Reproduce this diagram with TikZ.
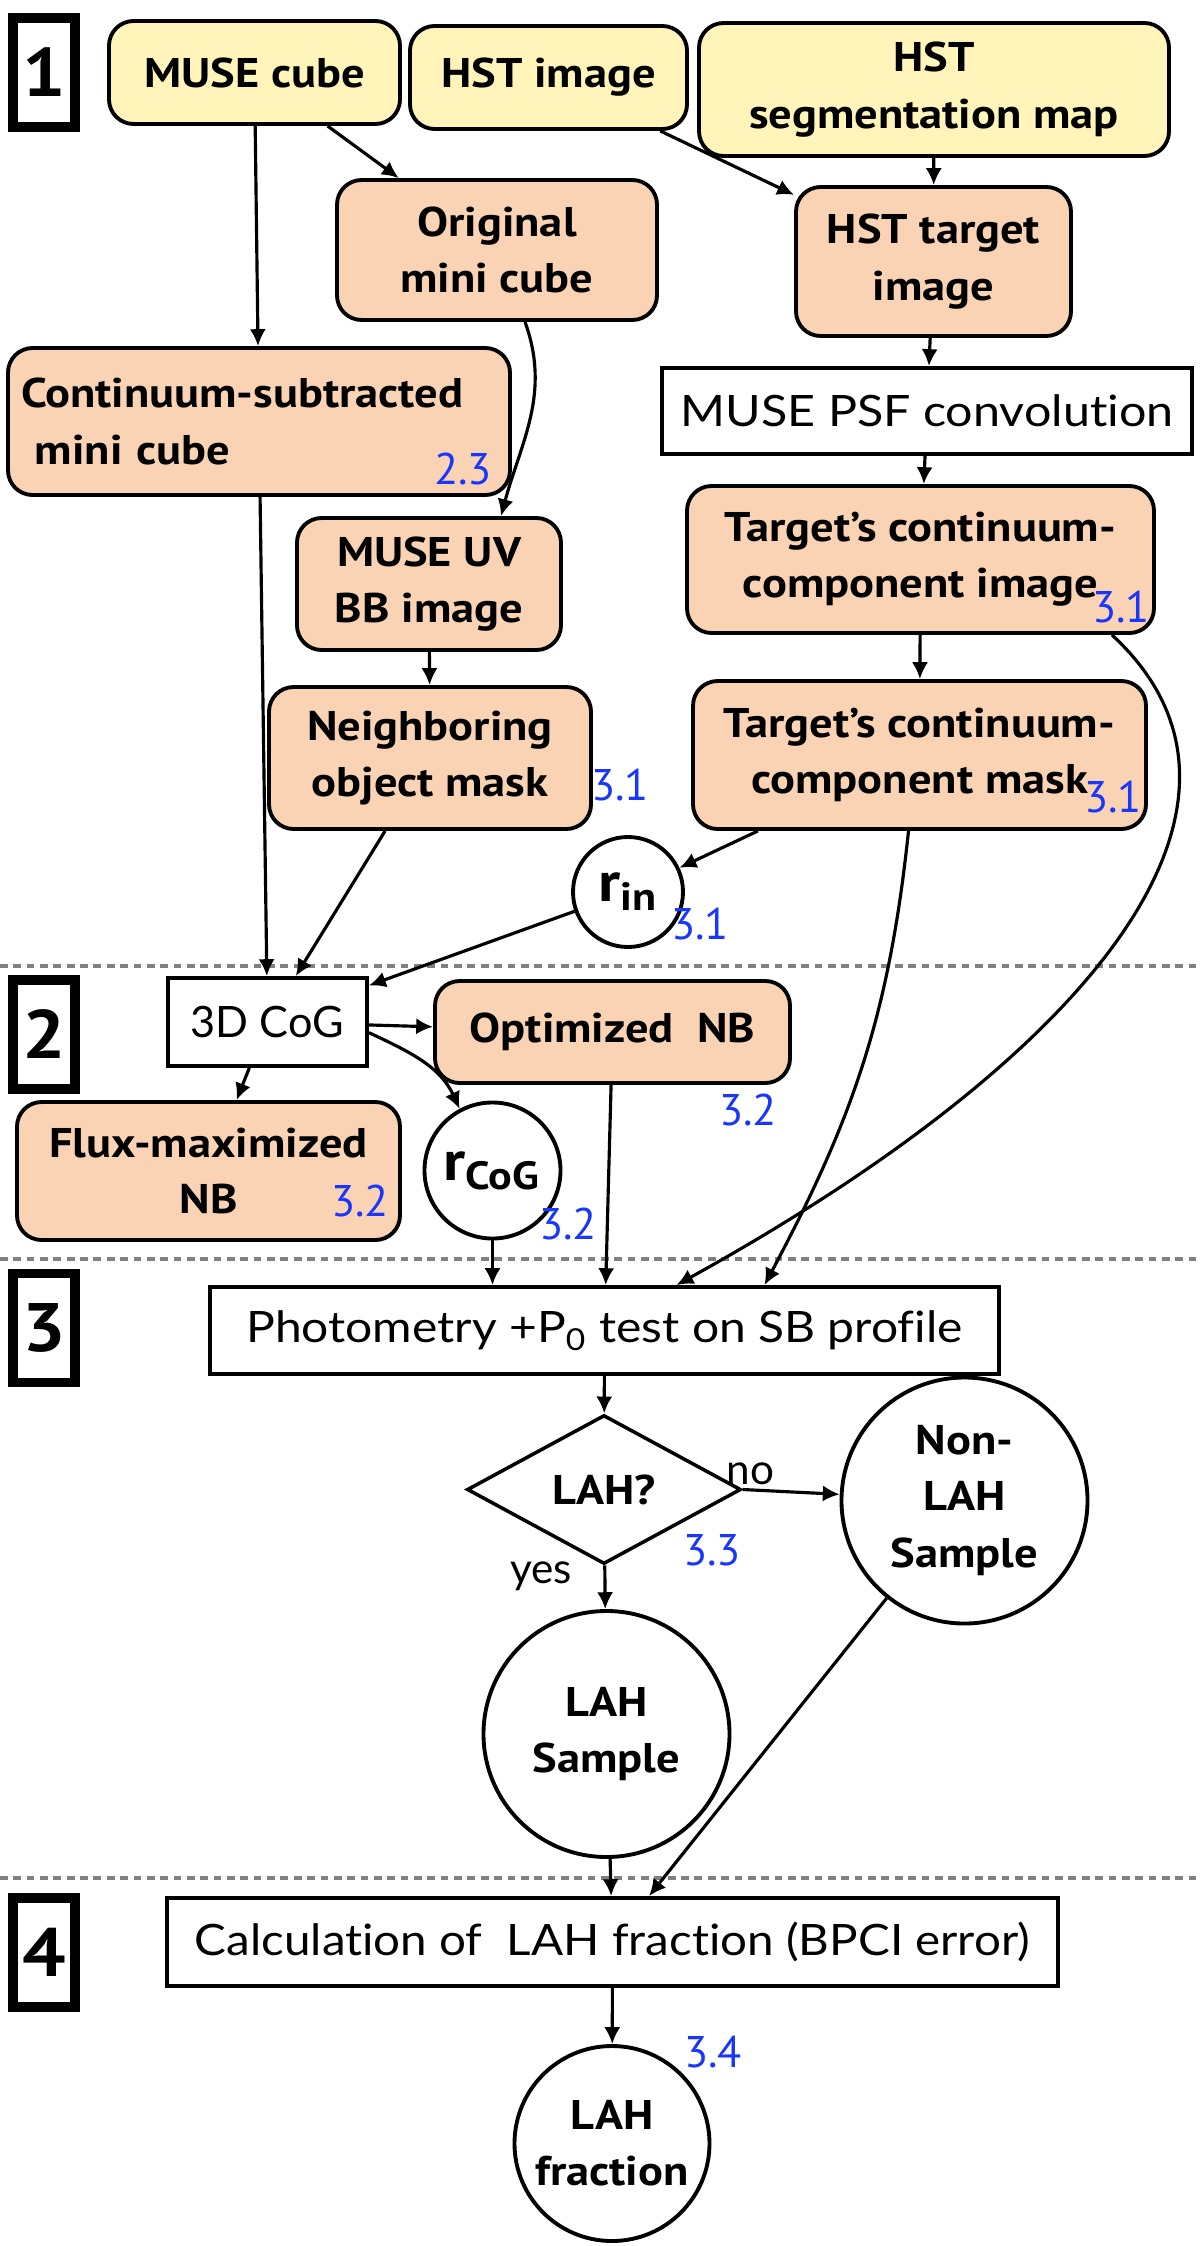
\documentclass[tikz,border=0pt]{standalone}
\usepackage{fontspec}
\setmainfont{PT Sans}[FakeStretch=1.12]
\newfontfamily\numfont{PT Sans}
\newfontfamily\plainfont{Lato}[Ligatures=NoCommon]
\usetikzlibrary{shapes.geometric,positioning,arrows.meta}
\definecolor{inyellow}{RGB}{255,245,187}
\definecolor{procpeach}{RGB}{249,211,180}
\definecolor{secblue}{RGB}{25,55,250}
\definecolor{sepgrey}{RGB}{128,128,128}
\tikzset{
  boxtext/.style={font=\bfseries\fontsize{11.8}{16}\selectfont},
  inbox/.style={boxtext, draw, line width=1.1pt, rounded corners=7pt, fill=inyellow, align=center, inner sep=2pt},
  procbox/.style={inbox, fill=procpeach},
  plainbox/.style={draw, line width=1.1pt, align=center, inner sep=2pt, widen=1},
  widen/.style={font=\plainfont\addfontfeature{FakeStretch=#1}\fontsize{12.3}{15}\selectfont},
  roundnode/.style={boxtext, circle, draw, line width=1.1pt, inner sep=0pt, align=center},
  radnode/.style={roundnode, font=\bfseries\fontsize{16}{17}\selectfont},
  decision/.style={boxtext, diamond, draw, line width=1pt, aspect=1.84, inner sep=0pt},
  phasebox/.style={draw, line width=2.8pt, minimum width=0.62cm, minimum height=1.09cm, inner sep=0pt, font=\bfseries\fontsize{19.5}{20}\selectfont},
  secnum/.style={text=secblue, inner sep=0pt, font=\numfont\fontsize{12.6}{13}\selectfont},
  edgetext/.style={font=\plainfont\fontsize{12}{13}\selectfont, inner sep=1pt},
  sep/.style={draw=sepgrey, line width=1.3pt, dash pattern=on 2.2pt off 1.6pt},
  flow/.style={->, >={Latex[length=4.8pt,width=4.6pt]}, line width=0.9pt},
}
\begin{document}
\begin{tikzpicture}
  \useasboundingbox (0,0) rectangle (12,-22.46);

  % phase separators
  \draw[sep] (0,-9.66) -- (12,-9.66);
  \draw[sep] (0,-12.59) -- (12,-12.59);
  \draw[sep] (0,-18.78) -- (12,-18.78);

  \node[phasebox] (p1) at (0.44,-0.725) {1};
  \node[phasebox] (p2) at (0.44,-10.345) {2};
  \node[phasebox] (p3) at (0.44,-13.28) {3};
  \node[phasebox] (p4) at (0.44,-19.525) {4};

  % phase 1
  \node[inbox, minimum width=2.91cm, minimum height=1.03cm] (muse) at (2.545,-0.725) {MUSE cube};
  \node[inbox, minimum width=2.77cm, minimum height=1.03cm] (hstimg) at (5.485,-0.775) {HST image};
  \node[inbox, minimum width=4.70cm, minimum height=1.33cm] (segmap) at (9.34,-0.895) {HST\\segmentation map};
  \node[procbox, minimum width=3.20cm, minimum height=1.40cm] (orig) at (4.97,-2.50) {Original\\mini cube};
  \node[procbox, minimum width=2.75cm, minimum height=1.49cm] (hsttarget) at (9.335,-2.615) {HST target\\image};
  \node[plainbox, widen=1.12, minimum width=5.30cm, minimum height=0.86cm] (psf) at (9.27,-4.11) {MUSE PSF convolution};
  \node[procbox, align=left, inner xsep=0.13cm, text width=4.76cm, minimum height=1.47cm] (contsub) at (2.59,-4.215) {Continuum-subtracted\\\ mini cube};
  \node[procbox, minimum width=2.64cm, minimum height=1.32cm] (uvbb) at (4.29,-5.84) {MUSE UV\\BB image};
  \node[procbox, minimum width=4.67cm, minimum height=1.47cm] (tcimg) at (9.205,-5.595) {Target's continuum-\\component image};
  \node[procbox, minimum width=3.22cm, minimum height=1.42cm] (nbmask) at (4.30,-7.58) {Neighboring\\object mask};
  \node[procbox, minimum width=4.53cm, minimum height=1.48cm] (tcmask) at (9.195,-7.55) {Target's continuum-\\component mask};
  \node[radnode, minimum size=1.10cm] (rin) at (6.28,-8.92) {r\textsubscript{in}};

  % phase 2
  \node[plainbox, minimum width=1.99cm, minimum height=0.88cm] (cog) at (2.675,-10.22) {3D CoG};
  \node[procbox, minimum width=3.55cm, minimum height=1.02cm] (optnb) at (6.125,-10.32) {Optimized~ NB};
  \node[procbox, minimum width=3.83cm, minimum height=1.38cm] (fluxnb) at (2.085,-11.71) {Flux-maximized\\NB};
  \node[radnode, minimum size=1.36cm] (rcog) at (4.925,-11.705) {r\textsubscript{CoG}};

  % phase 3
  \node[plainbox, widen=1.11, minimum width=7.89cm, minimum height=0.87cm] (phot) at (6.045,-13.305) {Photometry +P\textsubscript{0} test on SB profile};
  \node[decision, minimum width=2.74cm, minimum height=1.49cm] (lah) at (6.04,-14.895) {LAH?};
  \node[roundnode, minimum size=2.46cm] (nonlah) at (9.645,-15.005) {Non-\\LAH\\Sample};
  \node[roundnode, minimum size=2.46cm] (lahs) at (6.065,-17.34) {LAH\\Sample};

  % phase 4
  \node[plainbox, widen=1.1, minimum width=8.91cm, minimum height=0.88cm] (calc) at (6.125,-19.42) {Calculation of~ LAH fraction (BPCI error)};
  \node[roundnode, minimum size=1.95cm] (lahfrac) at (6.12,-21.435) {LAH\\fraction};

  % section numbers
  \node[secnum] (s23) at (4.63,-4.69) {2.3};
  \node[secnum] (s31a) at (11.21,-6.07) {3.1};
  \node[secnum] (s31b) at (6.20,-7.85) {3.1};
  \node[secnum] (s31c) at (11.13,-7.97) {3.1};
  \node[secnum] (s31d) at (7.00,-9.24) {3.1};
  \node[secnum] (s32a) at (7.48,-11.10) {3.2};
  \node[secnum] (s32b) at (3.60,-12.01) {3.2};
  \node[secnum] (s32c) at (5.68,-12.24) {3.2};
  \node[secnum] (s33) at (7.12,-15.50) {3.3};
  \node[secnum] (s34) at (7.13,-20.52) {3.4};

  \draw[flow] (muse) -- (contsub);
  \draw[flow] (muse) -- (orig);
  \draw[flow] (hstimg) -- (hsttarget);
  \draw[flow] (segmap) -- (hsttarget);
  \draw[flow] (hsttarget) -- (psf);
  \draw[flow] (psf) -- (tcimg);
  \draw[flow] ([xshift=0.28cm]orig.south) to[out=-70,in=75] ([xshift=0.72cm]uvbb.north);
  \draw[flow] (uvbb) -- (nbmask);
  \draw[flow] (tcimg) -- (tcmask);
  \draw[flow] ([xshift=-0.44cm]tcimg.south east) .. controls +(1.8,-1.66) and +(4.23,2.34) .. ([xshift=0.72cm]phot.north);
  \draw[flow] ([xshift=-0.11cm]tcmask.south) to[out=-96,in=62] ([xshift=1.6cm]phot.north);
  \draw[flow] (tcmask) -- (rin);
  \draw[flow] (rin) -- (cog);
  \draw[flow] (contsub) -- (cog);
  \draw[flow] (nbmask) -- (cog);
  \draw[flow] (cog) -- (optnb);
  \draw[flow] (cog.-6) to[out=-25,in=115] (rcog.118);
  \draw[flow] (cog) -- (fluxnb);
  \draw[flow] (rcog.south) -- (rcog.south |- phot.north);
  \draw[flow] (optnb) -- (phot);
  \draw[flow] (phot) -- (lah);
  \draw[flow] (lah) -- node[edgetext, pos=0.25, left=0.28cm] {yes} (lahs);
  \draw[flow] (lah.east) -- node[edgetext, pos=0.08, above=0pt] {no} (nonlah);
  \draw[flow] (lahs) -- (calc);
  \draw[flow] (nonlah) -- (calc);
  \draw[flow] (calc) -- (lahfrac);
\end{tikzpicture}
\end{document}
